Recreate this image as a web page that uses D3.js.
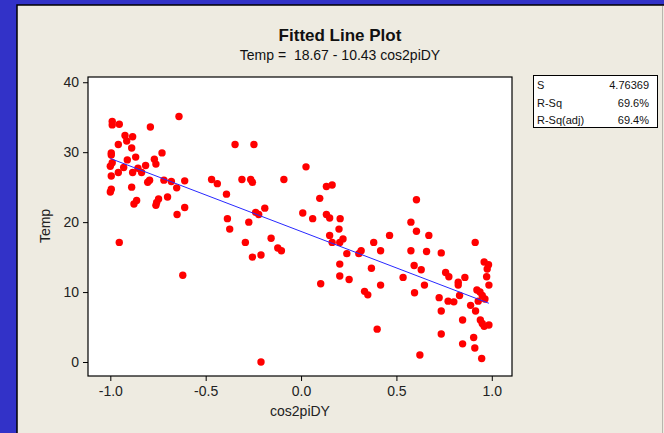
<html>
<script src="https://d3js.org/d3.v7.min.js"></script>
<style>
	body {margin: 0; background: #3232c8;}
	svg {display: block; font-family: "Liberation Sans", Arial, sans-serif;}
</style>
<body>
<svg width=664 height=433></svg>
<script>
// cos2piDY values and Temp values
var xVals = [-0.99,-0.99,-0.953,-0.64,-0.79,-0.923,-0.883,-0.914,-0.958,-0.888,
	-0.995,-0.995,-0.729,-0.867,-0.911,-0.99,-0.769,-0.761,-1.0,-0.93,
	-0.855,-0.815,-0.836,-0.883,-0.958,-0.995,-0.794,-0.804,-0.719,-0.68,
	-0.61,-0.652,-0.888,-0.995,-1.0,-0.862,-0.876,-0.747,-0.757,-0.761,
	-0.70,-0.61,-0.65,-0.469,-0.439,-0.346,-0.247,-0.31,-0.264,-0.255,
	-0.09,-0.391,-0.238,-0.222,-0.19,-0.386,-0.374,-0.274,-0.292,-0.953,
	-0.157,-0.122,-0.103,-0.255,-0.21,-0.62,-0.21,
	0.026,0.133,0.163,0.098,0.009,0.061,0.133,0.15,0.205,0.199,
	0.15,0.163,0.22,0.203,0.24,0.303,0.315,0.381,0.417,0.464,
	0.369,0.605,0.576,0.605,0.67,0.576,0.658,0.735,0.593,0.63,
	0.913,0.96,0.983,0.976,0.203,0.973,0.985,0.203,0.252,0.103,
	0.417,0.535,0.595,0.647,0.333,0.35,0.758,0.775,0.824,0.824,
	0.859,0.831,0.724,0.771,0.801,0.735,0.922,0.938,0.95,0.964,
	0.929,0.889,0.915,0.847,0.94,0.96,0.985,0.95,0.399,0.735,
	0.905,0.847,0.911,0.623,0.947];
var tempVals = [34.4,33.9,34.0,35.1,33.6,32.4,32.2,31.6,31.1,30.6,
	29.9,29.6,29.9,29.3,28.9,28.5,29.0,28.3,28.0,27.8,
	27.7,28.1,27.1,27.1,27.1,26.6,26.0,25.7,26.0,25.8,
	25.9,24.9,25.0,24.7,24.3,23.1,22.6,23.3,22.8,22.4,
	23.6,22.1,21.1,26.1,25.5,31.1,31.1,26.1,26.1,25.7,
	26.1,24.0,21.4,21.1,22.0,20.5,19.0,20.0,17.1,17.1,
	17.7,16.3,15.9,15.0,15.3,12.4,0.0,
	27.9,25.1,25.3,23.4,21.3,20.5,21.1,20.6,20.5,19.0,
	18.1,17.1,17.6,17.1,15.5,15.5,15.9,17.1,15.9,18.1,
	13.4,23.2,20.0,18.7,18.1,15.9,15.8,15.6,13.8,13.2,
	17.1,14.3,13.9,13.3,14.0,12.2,11.0,12.3,11.8,11.2,
	11.0,12.1,9.9,11.0,10.1,9.6,12.8,12.2,11.4,11.0,
	12.1,9.5,9.2,8.7,8.6,7.3,10.3,10.0,9.5,9.0,
	8.7,8.1,7.3,6.0,6.0,5.1,5.3,5.5,4.7,4.0,
	3.5,2.6,2.0,1.0,0.5];
var xTicks = [-1.0,-0.5,0.0,0.5,1.0];
var yTicks = [0,10,20,30,40];
var intercept = 18.67, slope = -10.43;
var statNames = ["S","R-Sq","R-Sq(adj)"];
var statValues = ["4.76369","69.6%","69.4%"];

var svg = d3.select("svg");

// window frame
svg.append("rect").attr("x", 17).attr("y", 5).attr("width", 660).attr("height", 440)
	.attr("fill", "#eeebe1").attr("stroke", "#000").attr("stroke-width", 1.5);
svg.append("line").attr("x1", 662.5).attr("x2", 662.5).attr("y1", 6).attr("y2", 433)
	.attr("stroke", "#b8b6ae");

svg.append("text").attr("x", 340).attr("y", 41).attr("text-anchor", "middle")
	.attr("font-size", "17px").attr("font-weight", "bold").attr("fill", "#111")
	.text("Fitted Line Plot");
svg.append("text").attr("x", 340).attr("y", 60).attr("text-anchor", "middle")
	.attr("font-size", "14px").attr("fill", "#111").style("white-space", "pre")
	.text("Temp =  " + intercept.toFixed(2) + " - " + Math.abs(slope).toFixed(2) + " cos2piDY");

var pLeft = 88, pRight = 512, pTop = 77, pBottom = 376;
var x = d3.scaleLinear().domain([-1.117, 1.106]).range([pLeft, pRight]);
var y = d3.scaleLinear().domain([-2.0, 40.75]).range([pBottom, pTop]);

svg.append("rect").attr("x", pLeft).attr("y", pTop).attr("width", pRight-pLeft).attr("height", pBottom-pTop)
	.attr("fill", "white");

var xAxis = svg.append("g").attr("transform", "translate(0," + pBottom + ")")
	.call(d3.axisBottom(x).tickValues(xTicks).tickSize(5).tickPadding(5).tickFormat(function(d) { return d.toFixed(1); }));
var yAxis = svg.append("g").attr("transform", "translate(" + pLeft + ",0)")
	.call(d3.axisLeft(y).tickValues(yTicks).tickSize(5).tickPadding(4).tickFormat(function(d) { return d; }));
[xAxis, yAxis].forEach(function(a) {
	a.select(".domain").remove();
	a.selectAll("text").attr("font-size", "14px").attr("font-family", "Liberation Sans, Arial").attr("fill", "#222");
	a.selectAll("line").attr("stroke", "#000");
});

svg.append("text").attr("x", 300).attr("y", 416).attr("text-anchor", "middle")
	.attr("font-size", "14px").attr("fill", "#222").text("cos2piDY");
svg.append("text").attr("transform", "translate(50,226) rotate(-90)").attr("text-anchor", "middle")
	.attr("font-size", "14px").attr("fill", "#222").text("Temp");

var pts = xVals.map(function(d, i) { return {x: d, t: tempVals[i]}; });
svg.append("g").selectAll("circle").data(pts).enter().append("circle")
	.attr("cx", function(d) { return x(d.x); })
	.attr("cy", function(d) { return y(d.t); })
	.attr("r", 3.7)
	.attr("fill", "#ff0000");

var ext = d3.extent(xVals);
svg.append("line")
	.attr("x1", x(ext[0])).attr("y1", y(intercept + slope*ext[0]))
	.attr("x2", x(ext[1])).attr("y2", y(intercept + slope*ext[1]))
	.attr("stroke", "#2828ff").attr("stroke-width", 1);

svg.append("rect").attr("x", pLeft).attr("y", pTop).attr("width", pRight-pLeft).attr("height", pBottom-pTop)
	.attr("fill", "none").attr("stroke", "#000").attr("stroke-width", 1.2);

// stats box
var box = svg.append("g");
box.append("rect").attr("x", 533.5).attr("y", 75.5).attr("width", 124).attr("height", 52)
	.attr("fill", "white").attr("stroke", "#000");
statNames.forEach(function(s, i) {
	box.append("text").attr("x", 537).attr("y", 89 + i*17.5).attr("font-size", "11px").attr("fill", "#111").text(s);
	box.append("text").attr("x", 649).attr("y", 89 + i*17.5).attr("font-size", "11px").attr("fill", "#111")
		.attr("text-anchor", "end").text(statValues[i]);
});
</script>
</body>
</html>
